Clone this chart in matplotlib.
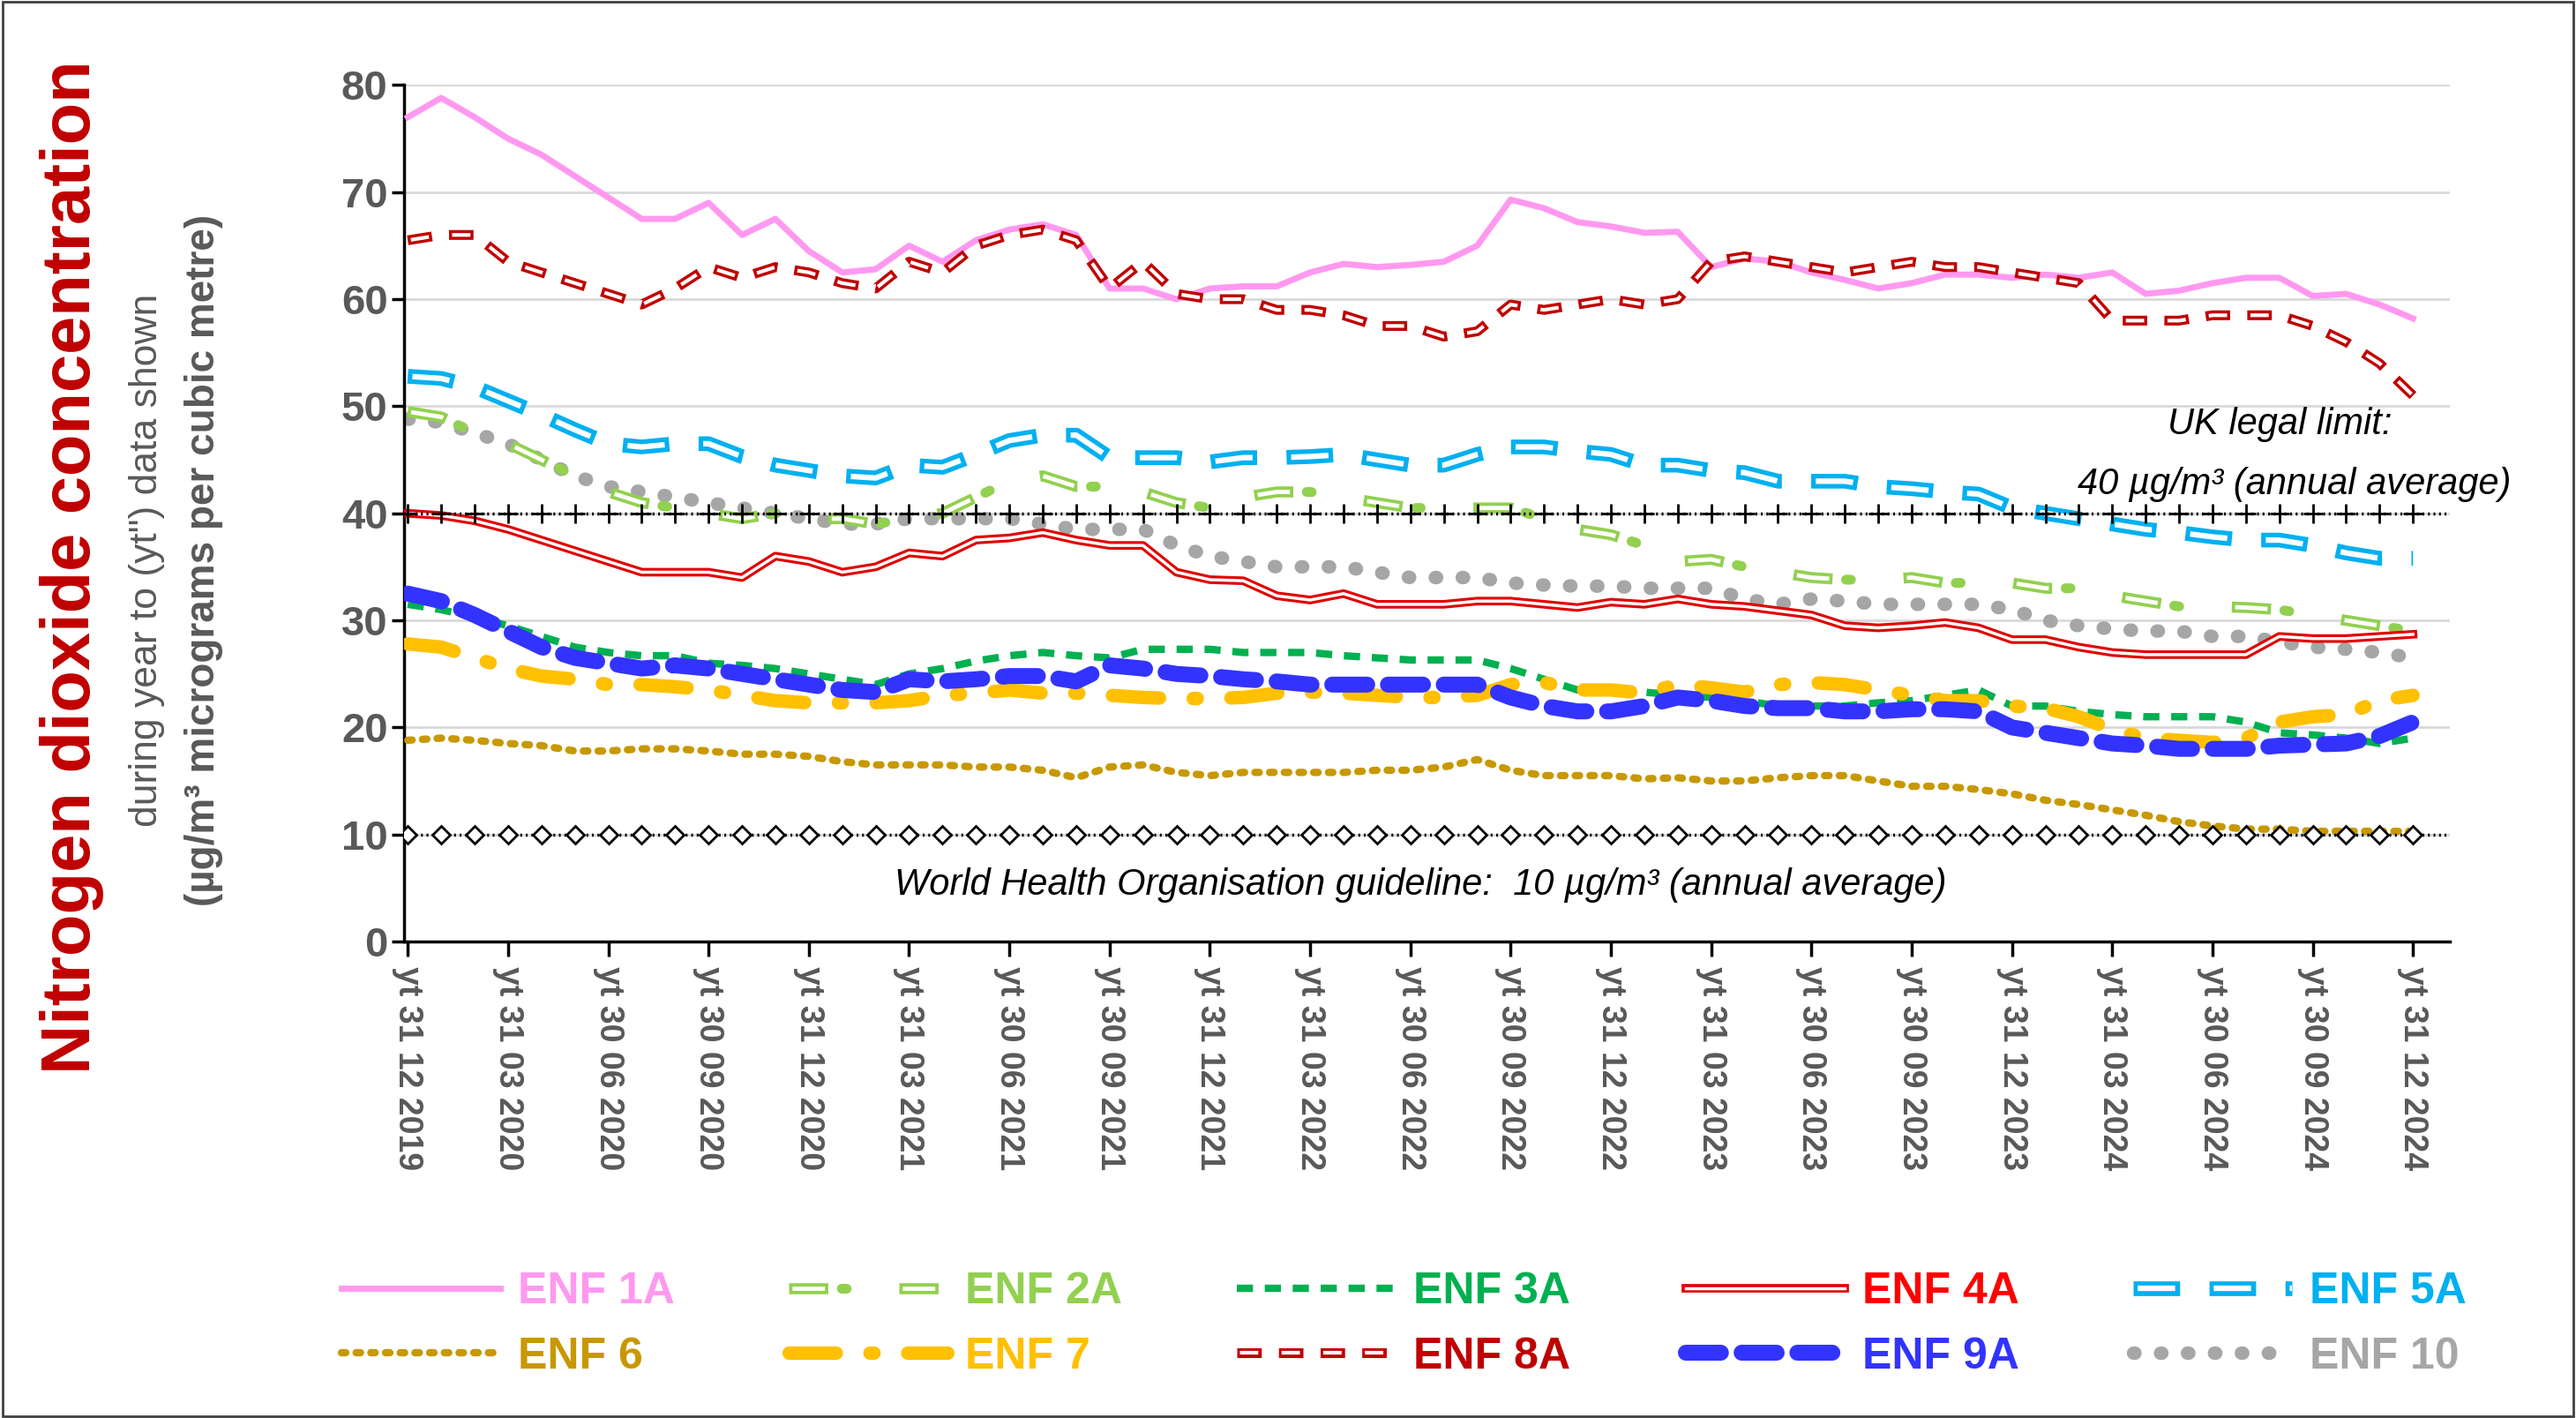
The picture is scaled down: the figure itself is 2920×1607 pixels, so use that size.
import matplotlib
matplotlib.use("Agg")
import matplotlib.pyplot as plt
import matplotlib.patches as mpatches

plt.rcParams['font.family'] = ['Liberation Sans', 'DejaVu Sans']

ticks = ["yt 31 12 2019","yt 31 03 2020","yt 30 06 2020","yt 30 09 2020","yt 31 12 2020",
         "yt 31 03 2021","yt 30 06 2021","yt 30 09 2021","yt 31 12 2021","yt 31 03 2022",
         "yt 30 06 2022","yt 30 09 2022","yt 31 12 2022","yt 31 03 2023","yt 30 06 2023",
         "yt 30 09 2023","yt 31 12 2023","yt 31 03 2024","yt 30 06 2024","yt 30 09 2024",
         "yt 31 12 2024"]

enf1a = [77,78.8,77,75,73.5,71.5,69.5,67.5,67.5,69,66,67.5,64.5,62.5,62.8,65,63.5,65.5,66.5,67,66,
         61,61,60,61,61.2,61.2,62.5,63.3,63,63.2,63.5,65,69.3,68.5,67.2,66.8,66.2,66.3,63,63.8,63.5,
         62.5,61.8,61,61.5,62.3,62.3,62,62.3,62,62.5,60.5,60.8,61.5,62,62,60.3,60.5,59.5,58.2]
enf8a = [65.5,66,66,63.5,62.5,61.5,60.5,59.5,61,63,62,63,62.5,61.5,61,63.5,62.5,65,66,66.5,65.5,
         61,63.5,60.5,60,60,59,59,58.5,57.5,57.5,56.5,57,59.5,59,59.5,60,59.5,60,63.5,64,63.5,
         63,62.5,63,63.5,63,63,62.5,62,61.5,58,58,58,58.5,58.5,58.5,57.5,56,54,51]
enf5a = [52.8,52.6,51.8,50.5,49.2,47.8,46.5,46.2,46.5,46.5,45.3,44.5,44,43.5,43.3,44.5,44.3,45.5,
         46.8,47.3,47.3,45.2,45.2,45.2,44.8,45.2,45.2,45.3,45.5,45,44.5,44.5,45.5,46.2,46.2,45.8,
         45.5,44.5,44.5,44,43.8,43,43,43,42.5,42.3,42,41.8,40.5,40,39.5,39,38.5,38.2,37.8,37.5,
         37.5,37,36.3,35.8,35.8]
enf2a = [49.5,49,47.5,46.5,45,43.5,42,41,40.5,40,39.5,40,39.5,39.5,39,39.5,40,41.5,43,43.5,42.5,
         42.5,42,41,40.5,41.5,42,42,41.5,41,40.5,40.5,40.5,40.5,39.5,38.5,38,37,35.5,35.7,35,34.5,
         34,33.8,33.8,34,33.5,33.5,33.5,33,33,32.3,31.8,31.3,31.3,31.2,31,30.5,30,29.5,29]
enf10 = [48.8,48.5,47.5,46.5,45,43.5,42.5,42,41.5,41,40.5,40,39.5,39,39,39.5,39.5,39.5,39.5,39,38.5,
         38.5,38.5,37,36,35.5,35,35,35,34.5,34,34,34,33.5,33.3,33.2,33.2,33,33,33,32,31.5,32,31.8,
         31.5,31.5,31.5,31.5,31,30,29.5,29.2,29,29,28.5,28.5,28,27.5,27.3,27,26.5]
enf4a = [40,39.8,39.3,38.5,37.5,36.5,35.5,34.5,34.5,34.5,34,36,35.5,34.5,35,36.3,36,37.5,37.7,38.2,
         37.5,37,37,34.5,33.8,33.7,32.3,31.9,32.5,31.5,31.5,31.5,31.8,31.8,31.5,31.2,31.7,31.5,32,
         31.5,31.3,30.9,30.5,29.5,29.3,29.5,29.8,29.3,28.2,28.2,27.5,27,26.8,26.8,26.8,26.8,28.5,
         28.3,28.3,28.5,28.7]
enf3a = [31.5,31,30.3,29.5,28.5,27.5,27,26.7,26.7,26,25.8,25.5,25,24.5,24,25,25.5,26.2,26.7,27,26.7,
         26.5,27.3,27.3,27.3,27,27,27,26.7,26.5,26.3,26.3,26.3,25.5,24.5,23.5,23.5,23.3,23,22.8,22.5,
         22,22,22,22.3,22.5,23,23.5,22,22,21.5,21.2,21,21,21,20.5,19.5,19.3,19,18.5,19]
enf9a = [32.5,31.8,30.5,29,27.5,26.5,26,25.5,25.8,25.5,25,24.5,24,23.5,23.3,24.5,24.3,24.5,24.8,24.8,
         24.3,25.8,25.5,25,24.8,24.5,24.3,24,24,24,24,24,24,22.8,22,21.5,21.5,22,22.8,22.5,22,21.8,
         21.8,21.5,21.5,21.7,21.7,21.5,20,19.5,19,18.5,18.3,18,18,18,18.3,18.4,18.5,19.2,20.5]
enf7 = [27.8,27.5,26.5,25.5,24.8,24.5,24,24,23.8,23.5,23,22.5,22.3,22.3,22.3,22.5,23,23.2,23.5,23.2,
        23.2,23,22.8,22.7,22.7,22.8,23.2,23.3,23.2,23,22.8,22.8,23,24,24.2,23.5,23.5,23.2,24,23.7,
        23.3,24,24.2,24,23.5,23,22.5,22.5,22,21.8,21,19.8,19,18.8,18.6,19,20.5,21,21.2,22.5,23]
enf6 = [18.8,19,18.8,18.5,18.3,17.8,17.8,18,18,17.8,17.5,17.5,17.3,16.8,16.5,16.5,16.5,16.3,16.3,16,
        15.3,16.3,16.5,15.8,15.5,15.8,15.8,15.8,15.8,16,16,16.3,17,16,15.5,15.5,15.5,15.2,15.3,15,15,
        15.3,15.5,15.5,15,14.5,14.5,14.2,13.8,13.2,12.8,12.3,11.8,11.2,10.8,10.5,10.5,10.3,10.3,10.3,10.3]

uk_limit = 40
who_limit = 10

fig = plt.figure(figsize=(29.2, 16.07), dpi=100)
ax = fig.add_axes([0.157, 0.336, 0.794, 0.604])
x = list(range(len(enf1a)))
GRAY = "#595959"

def outline(y, col, L1, L2, on, off, z):
    o = ax.plot(x, y, color=col, lw=L1, linestyle=(0, (on / L1, off / L1)),
                dash_capstyle="butt", solid_joinstyle="round", zorder=z)[0]
    b = (L1 - L2) / 2
    inner_on = on - 2 * b
    inner_off = on + off - inner_on
    i = ax.plot(x, y, color="white", lw=L2,
                linestyle=(-b / L2, (inner_on / L2, inner_off / L2)),
                dash_capstyle="butt", zorder=z + 0.1)[0]
    return (o, i)

h1 = ax.plot(x, enf1a, color="#FF99F0", lw=5, zorder=3)[0]
h2 = outline(enf2a, "#92D050", 9, 3.5, 32, 58, 3)
h2dot = ax.plot(x, enf2a, color="#92D050", lw=8, linestyle=(47 / 8, (0.5, 90 / 8 - 0.5)),
                dash_capstyle="round", zorder=3)[0]
h3 = ax.plot(x, enf3a, color="#00B050", lw=6, linestyle=(0, (2.2, 1.6)), zorder=3)[0]
h4o = ax.plot(x, enf4a, color="#E00000", lw=7, zorder=3)[0]
h4i = ax.plot(x, enf4a, color="white", lw=2.5, zorder=3.1)[0]
h5 = outline(enf5a, "#00B0F0", 12, 4.5, 38, 24, 3)
h6 = ax.plot(x, enf6, color="#C89800", lw=6, linestyle=(0, (0.6, 1.4)),
             dash_capstyle="round", zorder=3)[0]
h7 = ax.plot(x, enf7, color="#FFC000", lw=11, linestyle=(0, (3.5, 2.5, 0.3, 2.5)),
             dash_capstyle="round", zorder=3)[0]
h8 = outline(enf8a, "#C00000", 8, 3, 20, 14, 3)
h9 = ax.plot(x, enf9a, color="#3333FF", lw=13, linestyle=(0, (2.2, 1.3)),
             dash_capstyle="round", zorder=3)[0]
h10 = ax.plot(x, enf10, color="#A6A6A6", lw=11, linestyle=(0, (0.1, 1.9)),
              dash_capstyle="round", zorder=2.5)[0]

ax.plot([-0.1, 61.1], [uk_limit, uk_limit], color="black", lw=2.5, linestyle=(0, (0.6, 1.2)), zorder=4)
ax.plot(x, [uk_limit] * len(x), color="none", marker="+", ms=16, mew=2, mec="black", zorder=4)
ax.plot([-0.1, 61.1], [who_limit, who_limit], color="black", lw=2.5, linestyle=(0, (0.6, 1.2)), zorder=4)
ax.plot(x, [who_limit] * len(x), color="none", marker="D", ms=10, mew=2, mec="black",
        mfc="white", zorder=4)

ax.set_xlim(-0.1, 61.1)
ax.set_ylim(0, 80)
ax.set_yticks(range(0, 81, 10))
ax.set_xticks(range(0, 61, 3))
ax.set_xticklabels(ticks, rotation=-90, fontsize=27, fontweight="bold", color=GRAY, va="top")
ax.tick_params(axis="y", labelsize=34, labelcolor=GRAY, length=10, width=2.5)
for l in ax.get_yticklabels():
    l.set_fontweight("bold")
ax.tick_params(axis="x", length=12, width=2.5, pad=8)
ax.grid(axis="y", color="#D9D9D9", lw=2)
ax.set_axisbelow(True)
for s in ["top", "right"]:
    ax.spines[s].set_visible(False)
ax.spines["left"].set_linewidth(2.5)
ax.spines["bottom"].set_linewidth(2.5)

ax.text(0.917, 0.592, "UK legal limit:", transform=ax.transAxes, ha="center", fontsize=30,
        style="italic", color="black", clip_on=False)
ax.text(1.03, 0.522, "40 µg/m³ (annual average)", transform=ax.transAxes, ha="right",
        fontsize=30, style="italic", color="black", clip_on=False)
ax.text(0.497, 0.055, "World Health Organisation guideline:  10 µg/m³ (annual average)",
        transform=ax.transAxes, ha="center", fontsize=30, style="italic", color="black")

fig.text(0.028, 0.60, "Nitrogen dioxide concentration", rotation=90, ha="center", va="center",
         fontsize=56, fontweight="bold", color="#C00000")
fig.text(0.057, 0.605, "during year to (yt\") data shown", rotation=90, ha="center", va="center",
         fontsize=32, color=GRAY)
fig.text(0.079, 0.605, "(µg/m³ micrograms per cubic metre)", rotation=90, ha="center", va="center",
         fontsize=33, fontweight="bold", color=GRAY)

handles = {"ENF 1A": h1, "ENF 2A": (h2[0], h2[1], h2dot), "ENF 3A": h3, "ENF 4A": (h4o, h4i),
           "ENF 5A": h5, "ENF 6": h6, "ENF 7": h7, "ENF 8A": h8, "ENF 9A": h9, "ENF 10": h10}
colors = {"ENF 1A": "#FF99F0", "ENF 2A": "#92D050", "ENF 3A": "#00B050", "ENF 4A": "#FF0000",
          "ENF 5A": "#00B0F0", "ENF 6": "#C89800", "ENF 7": "#FFC000", "ENF 8A": "#C00000",
          "ENF 9A": "#3333FF", "ENF 10": "#A6A6A6"}
order = ["ENF 1A", "ENF 6", "ENF 2A", "ENF 7", "ENF 3A", "ENF 8A", "ENF 4A", "ENF 9A",
         "ENF 5A", "ENF 10"]
leg = fig.legend([handles[k] for k in order], order, ncol=5, loc="center",
                 bbox_to_anchor=(0.545, 0.066), frameon=False,
                 prop={"size": 36, "weight": "bold", "family": "Liberation Sans"},
                 handlelength=3.6, columnspacing=2.6, handletextpad=0.4, labelspacing=0.55)
for t in leg.get_texts():
    t.set_color(colors[t.get_text()])

fig.patches.append(mpatches.Rectangle((0.001, 0.001), 0.998, 0.998, transform=fig.transFigure,
                                      fill=False, edgecolor="#404040", lw=2))
fig.savefig("out.png", dpi=100)
